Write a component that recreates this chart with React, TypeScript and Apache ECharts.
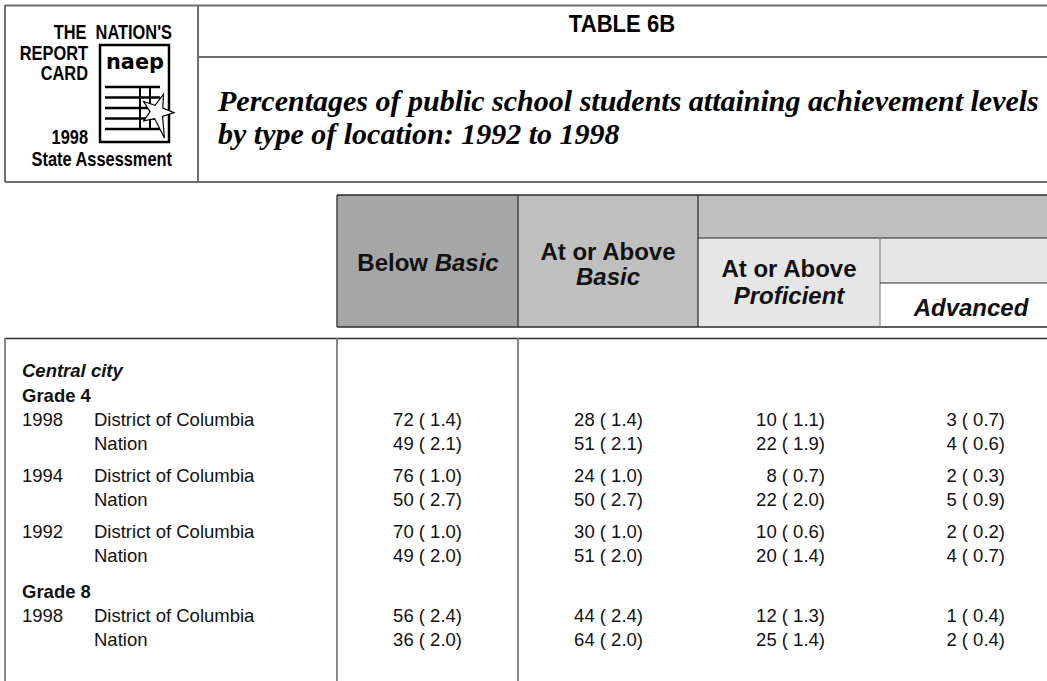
import React, { useEffect, useRef } from "react";
import * as echarts from "echarts";

// ---------------- DATA ----------------
const tableTitle = "TABLE 6B";
const subtitleLines = [
  "Percentages of public school students attaining achievement levels",
  "by type of location: 1992 to 1998",
];
const logoLines = ["THE  NATION'S", "REPORT", "CARD", "1998", "State Assessment"];
const locationLabel = "Central city";
const gradeLabels = ["Grade 4", "Grade 8"];
const yearLabels = ["1998", "1994", "1992", "1998"];
const yearGrade = [0, 0, 0, 1];
const jurisdictions = ["District of Columbia", "Nation"];

// rows ordered: year group 0 DC, Nation, year group 1 DC, Nation, ...
const belowBasic = [72, 49, 76, 50, 70, 49, 56, 36];
const belowBasicSE = [1.4, 2.1, 1.0, 2.7, 1.0, 2.0, 2.4, 2.0];
const atOrAboveBasic = [28, 51, 24, 50, 30, 51, 44, 64];
const atOrAboveBasicSE = [1.4, 2.1, 1.0, 2.7, 1.0, 2.0, 2.4, 2.0];
const atOrAboveProficient = [10, 22, 8, 22, 10, 20, 12, 25];
const atOrAboveProficientSE = [1.1, 1.9, 0.7, 2.0, 0.6, 1.4, 1.3, 1.4];
const advanced = [3, 4, 2, 5, 2, 4, 1, 2];
const advancedSE = [0.7, 0.6, 0.3, 0.9, 0.2, 0.7, 0.4, 0.4];

// ---------------- STYLE / LAYOUT ----------------
const W = 1047;
const H = 681;
const SANS = "'Liberation Sans', Arial, Helvetica, sans-serif";
const SERIF = "'Liberation Serif', 'Times New Roman', serif";
const HEAD_FS = 24;
const BODY_FS = 18.5;

function txt(
  x: number,
  y: number,
  text: string,
  font: string,
  align = "left",
  fill = "#111",
  scaleX = 1
) {
  return {
    type: "text",
    x,
    y,
    scaleX,
    silent: true,
    style: {
      text,
      font,
      fill,
      align,
      verticalAlign: "middle",
      textAlign: align,
      textVerticalAlign: "middle",
    },
  };
}

function richTxt(x: number, y: number, parts: { t: string; italic?: boolean }[], fs: number) {
  const rich: any = {
    b: { fontFamily: SANS, fontWeight: "bold", fontSize: fs, fill: "#111" },
    bi: { fontFamily: SANS, fontWeight: "bold", fontStyle: "italic", fontSize: fs, fill: "#111" },
  };
  const text = parts.map((p) => `{${p.italic ? "bi" : "b"}|${p.t}}`).join("");
  return {
    type: "text",
    x,
    y,
    silent: true,
    style: {
      text,
      rich,
      align: "center",
      verticalAlign: "middle",
      textAlign: "center",
      textVerticalAlign: "middle",
      fontFamily: SANS,
      fontWeight: "bold",
      fontSize: fs,
    },
  };
}

function ln(x1: number, y1: number, x2: number, y2: number, stroke: string, lw: number) {
  return {
    type: "line",
    silent: true,
    shape: { x1, y1, x2, y2 },
    style: { stroke, lineWidth: lw },
  };
}

function rect(x: number, y: number, w: number, h: number, fill: string) {
  return { type: "rect", silent: true, shape: { x, y, width: w, height: h }, style: { fill } };
}

function fmt(v: number, se: number) {
  return `${v} ( ${se.toFixed(1)})`;
}

function buildGraphics() {
  const els: any[] = [];
  els.push(rect(0, 0, W, H, "#ffffff"));

  // ---- top banner box ----
  const boxGray = "#6f6f6f";
  els.push(ln(5, 5.5, W, 5.5, boxGray, 2));
  els.push(ln(5, 182, W, 182, boxGray, 2));
  els.push(ln(5, 5, 5, 182, boxGray, 2));
  els.push(ln(198, 5, 198, 182, boxGray, 2));
  els.push(ln(198, 57, W, 57, boxGray, 2));

  // logo texts (condensed look via horizontal scale)
  const logoFont = `bold 21px ${SANS}`;
  const sx = 0.78;
  els.push(txt(172, 32, logoLines[0], logoFont, "right", "#000", sx));
  els.push(txt(88, 53, logoLines[1], logoFont, "right", "#000", sx));
  els.push(txt(88, 73, logoLines[2], logoFont, "right", "#000", sx));
  els.push(txt(88, 137, logoLines[3], logoFont, "right", "#000", sx));
  els.push(txt(172, 159, logoLines[4], logoFont, "right", "#000", sx));

  // logo document
  els.push({
    type: "rect",
    silent: true,
    shape: { x: 100, y: 45, width: 69, height: 97 },
    style: { fill: "#fff", stroke: "#000", lineWidth: 2.5 },
  });
  els.push(txt(135, 61, "naep", `bold 22px 'DejaVu Sans', ${SANS}`, "center", "#000", 0.95));
  [87, 97.5, 108, 118.5, 129].forEach((yy) => els.push(ln(105, yy, 160, yy, "#000", 2.5)));
  els.push(ln(140, 86, 140, 130, "#000", 2));
  els.push(ln(150, 86, 150, 130, "#000", 2));
  // star
  const cx = 157;
  const cy = 112;
  const pts: number[][] = [];
  const outer = [19, 17, 27, 16, 17];
  for (let i = 0; i < 10; i++) {
    const a = (-70 + i * 36) * (Math.PI / 180);
    const r = i % 2 === 0 ? outer[i / 2] : 7;
    pts.push([cx + r * Math.cos(a), cy + r * Math.sin(a)]);
  }
  els.push({
    type: "polygon",
    silent: true,
    shape: { points: pts },
    style: { fill: "#fff", stroke: "#000", lineWidth: 1.2 },
  });

  // titles
  els.push(txt(622, 24, tableTitle, `bold 24px ${SANS}`, "center", "#000", 0.92));
  els.push(txt(218, 100, subtitleLines[0], `italic bold 30px ${SERIF}`, "left", "#000"));
  els.push(txt(218, 133, subtitleLines[1], `italic bold 30px ${SERIF}`, "left", "#000"));

  // ---- column header ----
  const hTop = 195;
  const hBot = 327;
  els.push(rect(337, hTop, 181, hBot - hTop, "#a6a6a6"));
  els.push(rect(518, hTop, 180, hBot - hTop, "#bfbfbf"));
  els.push(rect(698, hTop, W - 698, 43, "#bfbfbf"));
  els.push(rect(698, 238, 182, hBot - 238, "#e6e6e6"));
  els.push(rect(880, 238, W - 880, 45, "#e6e6e6"));
  els.push(rect(880, 283, W - 880, hBot - 283, "#ffffff"));
  const dark = "#2b2b2b";
  els.push(ln(337, hTop, W, hTop, dark, 1.3));
  els.push(ln(337, hBot, W, hBot, dark, 1.3));
  els.push(ln(337, hTop, 337, hBot, dark, 1.3));
  els.push(ln(518, hTop, 518, hBot, dark, 1.2));
  els.push(ln(698, hTop, 698, hBot, dark, 1.2));
  els.push(ln(698, 238, W, 238, dark, 1.2));
  els.push(ln(880, 238, 880, hBot, "#8a8a8a", 1.2));
  els.push(ln(880, 283, W, 283, dark, 1.2));

  els.push(richTxt(428, 262, [{ t: "Below " }, { t: "Basic", italic: true }], HEAD_FS));
  els.push(richTxt(608, 251, [{ t: "At or Above" }], HEAD_FS));
  els.push(richTxt(608, 276, [{ t: "Basic", italic: true }], HEAD_FS));
  els.push(richTxt(789, 268, [{ t: "At or Above" }], HEAD_FS));
  els.push(richTxt(789, 295, [{ t: "Proficient", italic: true }], HEAD_FS));
  els.push(richTxt(971, 307, [{ t: "Advanced", italic: true }], HEAD_FS));

  // ---- body ----
  els.push(ln(5, 338.5, W, 338.5, dark, 1.6));
  const bodyGray = "#7a7a7a";
  els.push(ln(5, 338, 5, H, bodyGray, 1.8));
  els.push(ln(337, 338, 337, H, bodyGray, 1.8));
  els.push(ln(518, 338, 518, H, bodyGray, 1.8));

  const regular = `${BODY_FS}px ${SANS}`;
  const bold = `bold ${BODY_FS}px ${SANS}`;
  const boldItalic = `italic bold ${BODY_FS}px ${SANS}`;
  const colRights = [462, 643, 825, 1005];
  const valueCols = [
    [belowBasic, belowBasicSE],
    [atOrAboveBasic, atOrAboveBasicSE],
    [atOrAboveProficient, atOrAboveProficientSE],
    [advanced, advancedSE],
  ];

  let y = 370;
  els.push(txt(22, y, locationLabel, boldItalic));
  y += 25;
  els.push(txt(22, y, gradeLabels[yearGrade[0]], bold));
  y += 24;
  yearLabels.forEach((yr, gi) => {
    if (gi > 0) {
      if (yearGrade[gi] !== yearGrade[gi - 1]) {
        y += 36;
        els.push(txt(22, y, gradeLabels[yearGrade[gi]], bold));
        y += 24;
      } else {
        y += 32;
      }
    }
    jurisdictions.forEach((j, k) => {
      const row = gi * 2 + k;
      const ry = y + k * 24;
      if (k === 0) els.push(txt(22, ry, yr, regular));
      els.push(txt(94, ry, j, regular));
      valueCols.forEach(([vals, ses], c) => {
        els.push(txt(colRights[c], ry, fmt(vals[row], ses[row]), regular, "right"));
      });
    });
    y += 24;
  });

  return els;
}

export default function App() {
  const ref = useRef<HTMLDivElement>(null);
  useEffect(() => {
    if (!ref.current) return;
    const chart = echarts.init(ref.current, undefined, { renderer: "svg", width: W, height: H });
    chart.setOption({
      animation: false,
      backgroundColor: "#ffffff",
      graphic: { elements: buildGraphics() },
    });
    return () => chart.dispose();
  }, []);
  return (
    <div
      ref={ref}
      style={{ position: "fixed", left: 0, top: 0, width: W, height: H, background: "#fff" }}
    />
  );
}
